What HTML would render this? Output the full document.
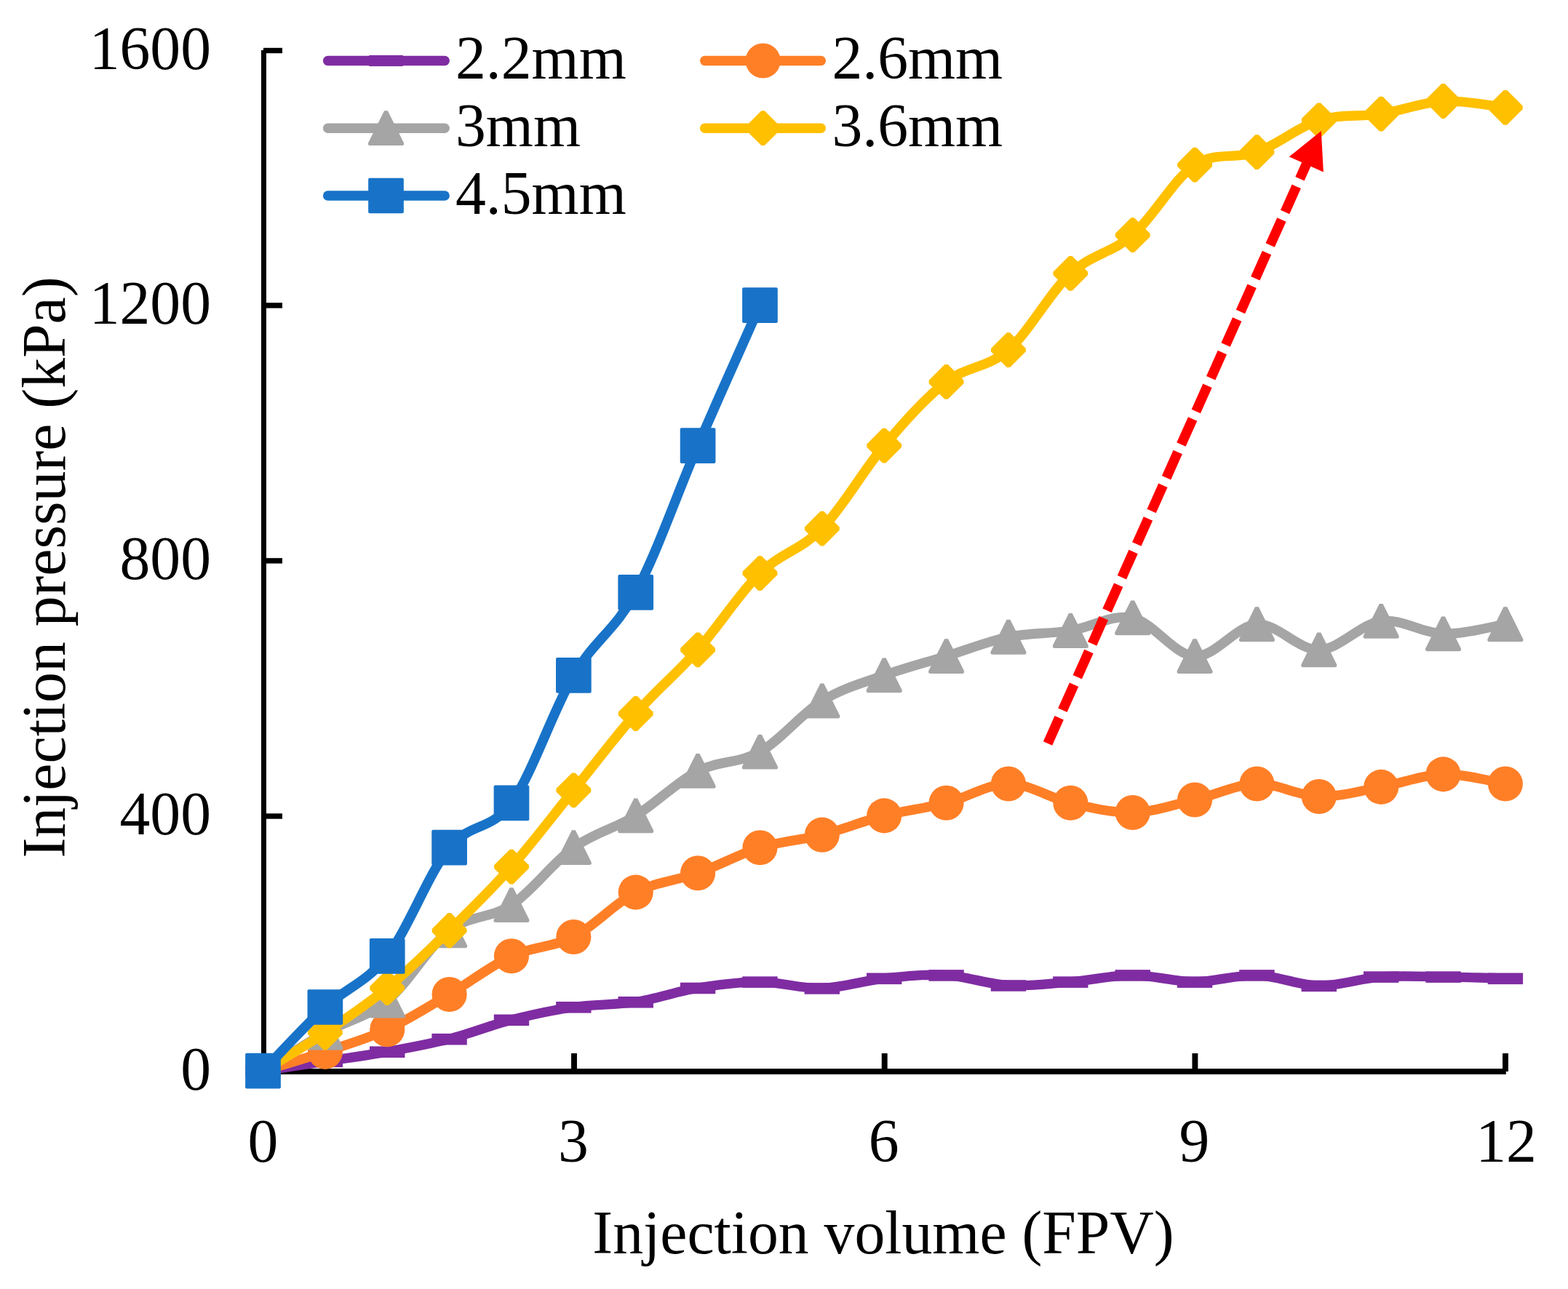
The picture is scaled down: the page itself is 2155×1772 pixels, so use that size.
<!DOCTYPE html>
<html lang="en"><head><meta charset="utf-8"><title>Injection pressure vs injection volume</title>
<style>html,body{margin:0;padding:0;background:#fff}body{width:2155px;height:1772px;overflow:hidden}svg{display:block}text{font-family:"Liberation Serif",serif;font-size:83.33px;fill:#000}</style>
</head><body>
<svg width="2155" height="1772" viewBox="0 0 2155 1772" role="img" aria-label="Injection pressure versus injection volume">
<rect width="2155" height="1772" fill="#fff"/>
<g fill="#000">
<rect x="359" y="69" width="7" height="1408"/>
<rect x="359" y="1469.1" width="1710.8" height="7.8"/>
<rect x="362" y="1118.3" width="26" height="7.4"/>
<rect x="362" y="767.2" width="26" height="7.4"/>
<rect x="362" y="416.2" width="26" height="7.4"/>
<rect x="362" y="65.8" width="26" height="7.4"/>
<rect x="785.05" y="1448" width="7.9" height="25"/>
<rect x="1211.75" y="1448" width="7.9" height="25"/>
<rect x="1638.45" y="1448" width="7.9" height="25"/>
<rect x="2065.05" y="1448" width="7.9" height="25"/>
</g>
<g>
<text transform="translate(290 1498) scale(1.004 1.02)" text-anchor="end">0</text>
<text transform="translate(290 1147) scale(1.004 1.02)" text-anchor="end">400</text>
<text transform="translate(290 795.9) scale(1.004 1.02)" text-anchor="end">800</text>
<text transform="translate(290 444.9) scale(1.004 1.02)" text-anchor="end">1200</text>
<text transform="translate(290 94.5) scale(1.004 1.02)" text-anchor="end">1600</text>
<text transform="translate(361.5 1597.2) scale(1.004 1.02)" text-anchor="middle">0</text>
<text transform="translate(788 1597.2) scale(1.004 1.02)" text-anchor="middle">3</text>
<text transform="translate(1214.7 1597.2) scale(1.004 1.02)" text-anchor="middle">6</text>
<text transform="translate(1641.4 1597.2) scale(1.004 1.02)" text-anchor="middle">9</text>
<text transform="translate(2070 1597.2) scale(1.004 1.02)" text-anchor="middle">12</text>
<text transform="translate(1214 1722.5) scale(1.004 1.02)" text-anchor="middle">Injection volume (FPV)</text>
<text transform="translate(89 780) rotate(-90) scale(1.004 1.02)" text-anchor="middle">Injection pressure (kPa)</text>
</g>
<g>
<path d="M361.5 1472.2C375.73 1470.01 418.41 1463.43 446.87 1459.04C475.33 1454.66 503.78 1451 532.24 1445.89C560.7 1440.77 589.15 1435.65 617.61 1428.35C646.07 1421.04 674.52 1409.34 702.98 1402.03C731.44 1394.72 759.89 1388.58 788.35 1384.49C816.81 1380.4 845.26 1381.86 873.72 1377.47C902.18 1373.09 930.63 1362.78 959.09 1358.18C987.55 1353.57 1016 1349.77 1044.46 1349.84C1072.92 1349.92 1101.37 1359.42 1129.83 1358.62C1158.29 1357.81 1186.74 1348.02 1215.2 1345.02C1243.66 1342.02 1272.11 1339.03 1300.57 1340.63C1329.03 1342.24 1357.48 1353.13 1385.94 1354.67C1414.4 1356.2 1442.85 1352.18 1471.31 1349.84C1499.77 1347.51 1528.22 1340.63 1556.68 1340.63C1585.14 1340.63 1613.59 1349.84 1642.05 1349.84C1670.51 1349.84 1698.96 1339.76 1727.42 1340.63C1755.88 1341.51 1784.33 1354.74 1812.79 1355.11C1841.25 1355.47 1869.7 1344.87 1898.16 1342.83C1926.62 1340.78 1955.07 1342.46 1983.53 1342.83C2011.99 1343.19 2054.67 1344.66 2068.9 1345.02" fill="none" stroke="#7F2CA2" stroke-width="13.4" stroke-linecap="round" stroke-linejoin="round"/>
<rect x="337.3" y="1464.7" width="48.4" height="15.6" fill="#7F2CA2"/>
<rect x="422.67" y="1451.54" width="48.4" height="15.6" fill="#7F2CA2"/>
<rect x="508.04" y="1438.39" width="48.4" height="15.6" fill="#7F2CA2"/>
<rect x="593.41" y="1420.85" width="48.4" height="15.6" fill="#7F2CA2"/>
<rect x="678.78" y="1394.53" width="48.4" height="15.6" fill="#7F2CA2"/>
<rect x="764.15" y="1376.99" width="48.4" height="15.6" fill="#7F2CA2"/>
<rect x="849.52" y="1369.97" width="48.4" height="15.6" fill="#7F2CA2"/>
<rect x="934.89" y="1350.68" width="48.4" height="15.6" fill="#7F2CA2"/>
<rect x="1020.26" y="1342.34" width="48.4" height="15.6" fill="#7F2CA2"/>
<rect x="1105.63" y="1351.12" width="48.4" height="15.6" fill="#7F2CA2"/>
<rect x="1191" y="1337.52" width="48.4" height="15.6" fill="#7F2CA2"/>
<rect x="1276.37" y="1333.13" width="48.4" height="15.6" fill="#7F2CA2"/>
<rect x="1361.74" y="1347.17" width="48.4" height="15.6" fill="#7F2CA2"/>
<rect x="1447.11" y="1342.34" width="48.4" height="15.6" fill="#7F2CA2"/>
<rect x="1532.48" y="1333.13" width="48.4" height="15.6" fill="#7F2CA2"/>
<rect x="1617.85" y="1342.34" width="48.4" height="15.6" fill="#7F2CA2"/>
<rect x="1703.22" y="1333.13" width="48.4" height="15.6" fill="#7F2CA2"/>
<rect x="1788.59" y="1347.61" width="48.4" height="15.6" fill="#7F2CA2"/>
<rect x="1873.96" y="1335.33" width="48.4" height="15.6" fill="#7F2CA2"/>
<rect x="1959.33" y="1335.33" width="48.4" height="15.6" fill="#7F2CA2"/>
<rect x="2044.7" y="1337.52" width="48.4" height="15.6" fill="#7F2CA2"/>
</g>
<g>
<path d="M361.5 1472.2C375.73 1467.81 418.41 1455.39 446.87 1445.89C475.33 1436.39 503.78 1428.35 532.24 1415.19C560.7 1402.03 589.15 1383.76 617.61 1366.95C646.07 1350.14 674.52 1327.48 702.98 1314.32C731.44 1301.17 759.89 1302.63 788.35 1288.01C816.81 1273.39 845.26 1241.23 873.72 1226.61C902.18 1211.99 930.63 1210.53 959.09 1200.3C987.55 1190.07 1016 1173.99 1044.46 1165.22C1072.92 1156.44 1101.37 1154.98 1129.83 1147.67C1158.29 1140.36 1186.74 1128.67 1215.2 1121.36C1243.66 1114.05 1272.11 1111.13 1300.57 1103.82C1329.03 1096.51 1357.48 1077.51 1385.94 1077.51C1414.4 1077.51 1442.85 1097.24 1471.31 1103.82C1499.77 1110.4 1528.22 1117.71 1556.68 1116.97C1585.14 1116.24 1613.59 1106.01 1642.05 1099.43C1670.51 1092.85 1698.96 1078.24 1727.42 1077.51C1755.88 1076.77 1784.33 1094.32 1812.79 1095.05C1841.25 1095.78 1869.7 1087.01 1898.16 1081.89C1926.62 1076.77 1955.07 1065.08 1983.53 1064.35C2011.99 1063.62 2054.67 1075.31 2068.9 1077.51" fill="none" stroke="#FF7F27" stroke-width="13.4" stroke-linecap="round" stroke-linejoin="round"/>
<circle cx="361.5" cy="1472.2" r="24.05" fill="#FF7F27"/>
<circle cx="446.87" cy="1445.89" r="24.05" fill="#FF7F27"/>
<circle cx="532.24" cy="1415.19" r="24.05" fill="#FF7F27"/>
<circle cx="617.61" cy="1366.95" r="24.05" fill="#FF7F27"/>
<circle cx="702.98" cy="1314.32" r="24.05" fill="#FF7F27"/>
<circle cx="788.35" cy="1288.01" r="24.05" fill="#FF7F27"/>
<circle cx="873.72" cy="1226.61" r="24.05" fill="#FF7F27"/>
<circle cx="959.09" cy="1200.3" r="24.05" fill="#FF7F27"/>
<circle cx="1044.46" cy="1165.22" r="24.05" fill="#FF7F27"/>
<circle cx="1129.83" cy="1147.67" r="24.05" fill="#FF7F27"/>
<circle cx="1215.2" cy="1121.36" r="24.05" fill="#FF7F27"/>
<circle cx="1300.57" cy="1103.82" r="24.05" fill="#FF7F27"/>
<circle cx="1385.94" cy="1077.51" r="24.05" fill="#FF7F27"/>
<circle cx="1471.31" cy="1103.82" r="24.05" fill="#FF7F27"/>
<circle cx="1556.68" cy="1116.97" r="24.05" fill="#FF7F27"/>
<circle cx="1642.05" cy="1099.43" r="24.05" fill="#FF7F27"/>
<circle cx="1727.42" cy="1077.51" r="24.05" fill="#FF7F27"/>
<circle cx="1812.79" cy="1095.05" r="24.05" fill="#FF7F27"/>
<circle cx="1898.16" cy="1081.89" r="24.05" fill="#FF7F27"/>
<circle cx="1983.53" cy="1064.35" r="24.05" fill="#FF7F27"/>
<circle cx="2068.9" cy="1077.51" r="24.05" fill="#FF7F27"/>
</g>
<g>
<path d="M361.5 1472.2C375.73 1463.43 418.41 1435.65 446.87 1419.57C475.33 1403.49 503.78 1399.11 532.24 1375.72C560.7 1352.33 589.15 1301.17 617.61 1279.24C646.07 1257.31 674.52 1263.16 702.98 1244.15C731.44 1225.15 759.89 1185.68 788.35 1165.22C816.81 1144.75 845.26 1138.9 873.72 1121.36C902.18 1103.82 930.63 1074.58 959.09 1059.96C987.55 1045.34 1016 1049.73 1044.46 1033.65C1072.92 1017.57 1101.37 981.02 1129.83 963.48C1158.29 945.94 1186.74 938.63 1215.2 928.4C1243.66 918.17 1272.11 910.86 1300.57 902.09C1329.03 893.31 1357.48 881.62 1385.94 875.77C1414.4 869.92 1442.85 871.39 1471.31 867C1499.77 862.62 1528.22 843.61 1556.68 849.46C1585.14 855.31 1613.59 900.62 1642.05 902.09C1670.51 903.55 1698.96 859.69 1727.42 858.23C1755.88 856.77 1784.33 894.04 1812.79 893.31C1841.25 892.58 1869.7 857.5 1898.16 853.84C1926.62 850.19 1955.07 870.66 1983.53 871.39C2011.99 872.12 2054.67 860.42 2068.9 858.23" fill="none" stroke="#A5A5A5" stroke-width="13.4" stroke-linecap="round" stroke-linejoin="round"/>
<path d="M359.1 1448.3L363.9 1448.3L385.8 1492.1Q386.9 1496.1 383.3 1496.1L339.7 1496.1Q336.1 1496.1 337.2 1492.1Z" fill="#A5A5A5"/>
<path d="M444.47 1395.67L449.27 1395.67L471.17 1439.47Q472.27 1443.47 468.67 1443.47L425.07 1443.47Q421.47 1443.47 422.57 1439.47Z" fill="#A5A5A5"/>
<path d="M529.84 1351.82L534.64 1351.82L556.54 1395.62Q557.64 1399.62 554.04 1399.62L510.44 1399.62Q506.84 1399.62 507.94 1395.62Z" fill="#A5A5A5"/>
<path d="M615.21 1255.34L620.01 1255.34L641.91 1299.14Q643.01 1303.14 639.41 1303.14L595.81 1303.14Q592.21 1303.14 593.31 1299.14Z" fill="#A5A5A5"/>
<path d="M700.58 1220.25L705.38 1220.25L727.28 1264.05Q728.38 1268.05 724.78 1268.05L681.18 1268.05Q677.58 1268.05 678.68 1264.05Z" fill="#A5A5A5"/>
<path d="M785.95 1141.32L790.75 1141.32L812.65 1185.12Q813.75 1189.12 810.15 1189.12L766.55 1189.12Q762.95 1189.12 764.05 1185.12Z" fill="#A5A5A5"/>
<path d="M871.32 1097.46L876.12 1097.46L898.02 1141.26Q899.12 1145.26 895.52 1145.26L851.92 1145.26Q848.32 1145.26 849.42 1141.26Z" fill="#A5A5A5"/>
<path d="M956.69 1036.06L961.49 1036.06L983.39 1079.86Q984.49 1083.86 980.89 1083.86L937.29 1083.86Q933.69 1083.86 934.79 1079.86Z" fill="#A5A5A5"/>
<path d="M1042.06 1009.75L1046.86 1009.75L1068.76 1053.55Q1069.86 1057.55 1066.26 1057.55L1022.66 1057.55Q1019.06 1057.55 1020.16 1053.55Z" fill="#A5A5A5"/>
<path d="M1127.43 939.58L1132.23 939.58L1154.13 983.38Q1155.23 987.38 1151.63 987.38L1108.03 987.38Q1104.43 987.38 1105.53 983.38Z" fill="#A5A5A5"/>
<path d="M1212.8 904.5L1217.6 904.5L1239.5 948.3Q1240.6 952.3 1237 952.3L1193.4 952.3Q1189.8 952.3 1190.9 948.3Z" fill="#A5A5A5"/>
<path d="M1298.17 878.19L1302.97 878.19L1324.87 921.99Q1325.97 925.99 1322.37 925.99L1278.77 925.99Q1275.17 925.99 1276.27 921.99Z" fill="#A5A5A5"/>
<path d="M1383.54 851.87L1388.34 851.87L1410.24 895.67Q1411.34 899.67 1407.74 899.67L1364.14 899.67Q1360.54 899.67 1361.64 895.67Z" fill="#A5A5A5"/>
<path d="M1468.91 843.1L1473.71 843.1L1495.61 886.9Q1496.71 890.9 1493.11 890.9L1449.51 890.9Q1445.91 890.9 1447.01 886.9Z" fill="#A5A5A5"/>
<path d="M1554.28 825.56L1559.08 825.56L1580.98 869.36Q1582.08 873.36 1578.48 873.36L1534.88 873.36Q1531.28 873.36 1532.38 869.36Z" fill="#A5A5A5"/>
<path d="M1639.65 878.19L1644.45 878.19L1666.35 921.99Q1667.45 925.99 1663.85 925.99L1620.25 925.99Q1616.65 925.99 1617.75 921.99Z" fill="#A5A5A5"/>
<path d="M1725.02 834.33L1729.82 834.33L1751.72 878.13Q1752.82 882.13 1749.22 882.13L1705.62 882.13Q1702.02 882.13 1703.12 878.13Z" fill="#A5A5A5"/>
<path d="M1810.39 869.41L1815.19 869.41L1837.09 913.21Q1838.19 917.21 1834.59 917.21L1790.99 917.21Q1787.39 917.21 1788.49 913.21Z" fill="#A5A5A5"/>
<path d="M1895.76 829.94L1900.56 829.94L1922.46 873.74Q1923.56 877.74 1919.96 877.74L1876.36 877.74Q1872.76 877.74 1873.86 873.74Z" fill="#A5A5A5"/>
<path d="M1981.13 847.49L1985.93 847.49L2007.83 891.29Q2008.93 895.29 2005.33 895.29L1961.73 895.29Q1958.13 895.29 1959.23 891.29Z" fill="#A5A5A5"/>
<path d="M2066.5 834.33L2071.3 834.33L2093.2 878.13Q2094.3 882.13 2090.7 882.13L2047.1 882.13Q2043.5 882.13 2044.6 878.13Z" fill="#A5A5A5"/>
</g>
<g>
<path d="M361.5 1472.2C375.73 1463.43 418.41 1438.58 446.87 1419.57C475.33 1400.57 503.78 1381.57 532.24 1358.18C560.7 1334.79 589.15 1307.01 617.61 1279.24C646.07 1251.46 674.52 1223.69 702.98 1191.53C731.44 1159.37 759.89 1121.36 788.35 1086.28C816.81 1051.19 845.26 1013.18 873.72 981.02C902.18 948.86 930.63 925.47 959.09 893.31C987.55 861.15 1016 815.84 1044.46 788.06C1072.92 760.29 1101.37 755.9 1129.83 726.67C1158.29 697.43 1186.74 646.26 1215.2 612.64C1243.66 579.02 1272.11 546.86 1300.57 524.93C1329.03 503 1357.48 505.93 1385.94 481.08C1414.4 456.23 1442.85 402.14 1471.31 375.83C1499.77 349.51 1528.22 348.05 1556.68 323.2C1585.14 298.35 1613.59 245.72 1642.05 226.72C1670.51 207.71 1698.96 219.41 1727.42 209.18C1755.88 198.94 1784.33 174.09 1812.79 165.32C1841.25 156.55 1869.7 160.94 1898.16 156.55C1926.62 152.16 1955.07 140.47 1983.53 139.01C2011.99 137.55 2054.67 146.32 2068.9 147.78" fill="none" stroke="#FFC000" stroke-width="13.4" stroke-linecap="round" stroke-linejoin="round"/>
<path d="M359.3 1448.3L363.7 1448.3L385.4 1470L385.4 1474.4L363.7 1496.1L359.3 1496.1L337.6 1474.4L337.6 1470Z" fill="#FFC000"/>
<path d="M444.67 1395.67L449.07 1395.67L470.77 1417.37L470.77 1421.77L449.07 1443.47L444.67 1443.47L422.97 1421.77L422.97 1417.37Z" fill="#FFC000"/>
<path d="M530.04 1334.28L534.44 1334.28L556.14 1355.98L556.14 1360.38L534.44 1382.08L530.04 1382.08L508.34 1360.38L508.34 1355.98Z" fill="#FFC000"/>
<path d="M615.41 1255.34L619.81 1255.34L641.51 1277.04L641.51 1281.44L619.81 1303.14L615.41 1303.14L593.71 1281.44L593.71 1277.04Z" fill="#FFC000"/>
<path d="M700.78 1167.63L705.18 1167.63L726.88 1189.33L726.88 1193.73L705.18 1215.43L700.78 1215.43L679.08 1193.73L679.08 1189.33Z" fill="#FFC000"/>
<path d="M786.15 1062.38L790.55 1062.38L812.25 1084.08L812.25 1088.48L790.55 1110.18L786.15 1110.18L764.45 1088.48L764.45 1084.08Z" fill="#FFC000"/>
<path d="M871.52 957.12L875.92 957.12L897.62 978.82L897.62 983.22L875.92 1004.92L871.52 1004.92L849.82 983.22L849.82 978.82Z" fill="#FFC000"/>
<path d="M956.89 869.41L961.29 869.41L982.99 891.11L982.99 895.51L961.29 917.21L956.89 917.21L935.19 895.51L935.19 891.11Z" fill="#FFC000"/>
<path d="M1042.26 764.16L1046.66 764.16L1068.36 785.86L1068.36 790.26L1046.66 811.96L1042.26 811.96L1020.56 790.26L1020.56 785.86Z" fill="#FFC000"/>
<path d="M1127.63 702.77L1132.03 702.77L1153.73 724.47L1153.73 728.87L1132.03 750.57L1127.63 750.57L1105.93 728.87L1105.93 724.47Z" fill="#FFC000"/>
<path d="M1213 588.74L1217.4 588.74L1239.1 610.44L1239.1 614.84L1217.4 636.54L1213 636.54L1191.3 614.84L1191.3 610.44Z" fill="#FFC000"/>
<path d="M1298.37 501.03L1302.77 501.03L1324.47 522.73L1324.47 527.13L1302.77 548.83L1298.37 548.83L1276.67 527.13L1276.67 522.73Z" fill="#FFC000"/>
<path d="M1383.74 457.18L1388.14 457.18L1409.84 478.88L1409.84 483.28L1388.14 504.98L1383.74 504.98L1362.04 483.28L1362.04 478.88Z" fill="#FFC000"/>
<path d="M1469.11 351.93L1473.51 351.93L1495.21 373.63L1495.21 378.03L1473.51 399.73L1469.11 399.73L1447.41 378.03L1447.41 373.63Z" fill="#FFC000"/>
<path d="M1554.48 299.3L1558.88 299.3L1580.58 321L1580.58 325.4L1558.88 347.1L1554.48 347.1L1532.78 325.4L1532.78 321Z" fill="#FFC000"/>
<path d="M1639.85 202.82L1644.25 202.82L1665.95 224.52L1665.95 228.92L1644.25 250.62L1639.85 250.62L1618.15 228.92L1618.15 224.52Z" fill="#FFC000"/>
<path d="M1725.22 185.28L1729.62 185.28L1751.32 206.98L1751.32 211.38L1729.62 233.08L1725.22 233.08L1703.52 211.38L1703.52 206.98Z" fill="#FFC000"/>
<path d="M1810.59 141.42L1814.99 141.42L1836.69 163.12L1836.69 167.52L1814.99 189.22L1810.59 189.22L1788.89 167.52L1788.89 163.12Z" fill="#FFC000"/>
<path d="M1895.96 132.65L1900.36 132.65L1922.06 154.35L1922.06 158.75L1900.36 180.45L1895.96 180.45L1874.26 158.75L1874.26 154.35Z" fill="#FFC000"/>
<path d="M1981.33 115.11L1985.73 115.11L2007.43 136.81L2007.43 141.21L1985.73 162.91L1981.33 162.91L1959.63 141.21L1959.63 136.81Z" fill="#FFC000"/>
<path d="M2066.7 123.88L2071.1 123.88L2092.8 145.58L2092.8 149.98L2071.1 171.68L2066.7 171.68L2045 149.98L2045 145.58Z" fill="#FFC000"/>
</g>
<g>
<path d="M361.5 1472.2C375.73 1457.58 418.41 1410.8 446.87 1384.49C475.33 1358.18 503.78 1350.87 532.24 1314.32C560.7 1277.78 589.15 1200.3 617.61 1165.22C646.07 1130.13 674.52 1143.29 702.98 1103.82C731.44 1064.35 759.89 976.64 788.35 928.4C816.81 880.16 845.26 867 873.72 814.38C902.18 761.75 930.63 678.42 959.09 612.64C987.55 546.86 1030.23 451.84 1044.46 419.68" fill="none" stroke="#1873C8" stroke-width="13.4" stroke-linecap="round" stroke-linejoin="round"/>
<rect x="337.15" y="1447.85" width="48.7" height="48.7" rx="2" fill="#1873C8"/>
<rect x="422.52" y="1360.14" width="48.7" height="48.7" rx="2" fill="#1873C8"/>
<rect x="507.89" y="1289.97" width="48.7" height="48.7" rx="2" fill="#1873C8"/>
<rect x="593.26" y="1140.87" width="48.7" height="48.7" rx="2" fill="#1873C8"/>
<rect x="678.63" y="1079.47" width="48.7" height="48.7" rx="2" fill="#1873C8"/>
<rect x="764" y="904.05" width="48.7" height="48.7" rx="2" fill="#1873C8"/>
<rect x="849.37" y="790.02" width="48.7" height="48.7" rx="2" fill="#1873C8"/>
<rect x="934.74" y="588.29" width="48.7" height="48.7" rx="2" fill="#1873C8"/>
<rect x="1020.11" y="395.33" width="48.7" height="48.7" rx="2" fill="#1873C8"/>
</g>
<g>
<path d="M450.6 83.5H611.2" fill="none" stroke="#7F2CA2" stroke-width="13.4" stroke-linecap="round"/>
<rect x="507.2" y="75.9" width="46.6" height="15.2" fill="#7F2CA2"/>
<text transform="translate(626 108.2) scale(1.004 1.02)">2.2mm</text>
<path d="M968.7 83.5H1128.3" fill="none" stroke="#FF7F27" stroke-width="13.4" stroke-linecap="round"/>
<circle cx="1048.6" cy="83.5" r="24.05" fill="#FF7F27"/>
<text transform="translate(1143.4 108.2) scale(1.004 1.02)">2.6mm</text>
<path d="M450.6 176.2H611.2" fill="none" stroke="#A5A5A5" stroke-width="13.4" stroke-linecap="round"/>
<path d="M528.1 152.3L532.9 152.3L554.8 196.1Q555.9 200.1 552.3 200.1L508.7 200.1Q505.1 200.1 506.2 196.1Z" fill="#A5A5A5"/>
<text transform="translate(626 201.2) scale(1.004 1.02)">3mm</text>
<path d="M968.7 176.2H1128.3" fill="none" stroke="#FFC000" stroke-width="13.4" stroke-linecap="round"/>
<path d="M1046.4 152.3L1050.8 152.3L1072.5 174L1072.5 178.4L1050.8 200.1L1046.4 200.1L1024.7 178.4L1024.7 174Z" fill="#FFC000"/>
<text transform="translate(1143.4 201.2) scale(1.004 1.02)">3.6mm</text>
<path d="M450.6 269H611.2" fill="none" stroke="#1873C8" stroke-width="13.4" stroke-linecap="round"/>
<rect x="506.15" y="244.65" width="48.7" height="48.7" rx="2" fill="#1873C8"/>
<text transform="translate(626 294) scale(1.004 1.02)">4.5mm</text>
</g>
<g>
<path d="M1440 1022L1795.71 225.02" fill="none" stroke="#FF0000" stroke-width="13.5" stroke-dasharray="38.5 11.5"/>
<path d="M1815.8 180L1818.86 236.45L1771.74 215.42Z" fill="#FF0000"/>
</g>
</svg>
</body></html>
